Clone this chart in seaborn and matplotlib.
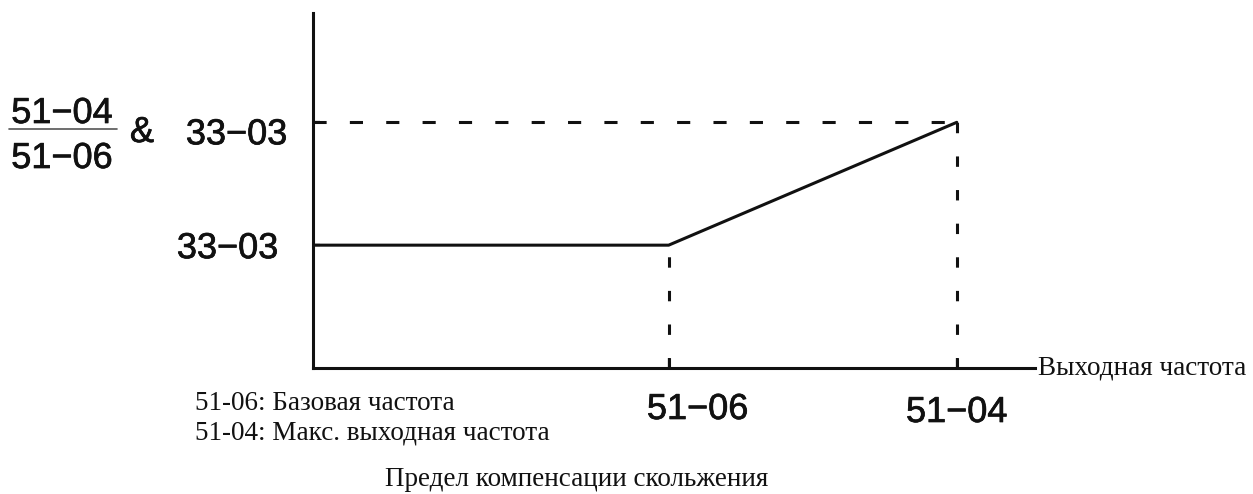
import matplotlib
matplotlib.use("Agg")
import matplotlib.pyplot as plt
import matplotlib.patheffects as pe
from matplotlib.lines import Line2D
from matplotlib.transforms import offset_copy
import pandas as pd
import seaborn as sns

# Slip compensation limit versus output frequency (normalized units)
freq_points = [0.0, 1.0, 1.81]      # start, base frequency 51-06, max output frequency 51-04
limit_points = [1.0, 1.0, 2.0]      # 33-03 up to base, then (51-04/51-06) & 33-03 at max
x_ticks = [1.0, 1.81]
x_tick_labels = ["51−06", "51−04"]
y_ticks = [1.0, 2.0]
y_tick_labels = ["33−03", "33−03"]
x_limit = 2.03
y_limit = 2.89

ratio_top = "51−04"
ratio_bottom = "51−06"
ratio_join = "&"
notes = ["51-06: Базовая частота", "51-04: Макс. выходная частота"]
x_axis_label = "Выходная частота"
caption = "Предел компенсации скольжения"

sns.set_style("ticks")
plt.rcParams["font.family"] = ["Liberation Sans", "DejaVu Sans"]

W, H = 1253, 494
INK = "#111111"


def fx(px):
    return px / W


def fy(py):
    return 1 - py / H


fig = plt.figure(figsize=(W / 100, H / 100), dpi=100)
ax = fig.add_axes([fx(313), fy(368), (1035 - 313) / W, (368 - 13) / H])

df = pd.DataFrame({"freq": freq_points, "limit": limit_points})
sns.lineplot(data=df, x="freq", y="limit", ax=ax, color=INK, linewidth=2.2,
             estimator=None, sort=False)

# dashed guides to the axes
x_base, x_max = x_ticks
y_low, y_high = y_ticks
ax.plot([0, x_max], [y_high, y_high], color=INK, linewidth=2.2, dashes=(4.3, 7.6))
ax.plot([x_base, x_base], [0, y_low], color=INK, linewidth=2.2, dashes=(3.4, 7.6))
ax.plot([x_max, x_max], [0, y_high], color=INK, linewidth=2.2, dashes=(3.4, 7.6))

ax.set_xlim(0, x_limit)
ax.set_ylim(0, y_limit)
ax.set_xlabel("")
ax.set_ylabel("")
for side in ("top", "right"):
    ax.spines[side].set_visible(False)
for side in ("left", "bottom"):
    ax.spines[side].set_linewidth(2.2)
    ax.spines[side].set_color(INK)

ax.set_xticks(x_ticks)
ax.set_yticks(y_ticks)
ax.tick_params(axis="x", direction="in", length=7, width=1.6, color=INK,
               labelbottom=False)
ax.tick_params(axis="y", direction="in", length=5, width=1.6, color=INK,
               labelleft=False)

# slightly heavier sans lettering for the parameter codes
heavy = [pe.withStroke(linewidth=0.5, foreground=INK)]
label_font = dict(fontsize=26, color=INK, family=["Liberation Sans", "DejaVu Sans"],
                  path_effects=heavy)

# frequency labels under the axis
x_label_shift = [(29, -24), (0, -27)]
for val, text, (dx, dy) in zip(x_ticks, x_tick_labels, x_label_shift):
    tr = offset_copy(ax.get_xaxis_transform(), fig=fig, x=dx, y=dy, units="dots")
    ax.text(val, 0, text, transform=tr, ha="center", va="top", **label_font)

# limit labels left of the axis
y_label_shift = [(-35, -13), (-26, -22)]
for val, text, (dx, dy) in zip(y_ticks, y_tick_labels, y_label_shift):
    tr = offset_copy(ax.get_yaxis_transform(), fig=fig, x=dx, y=dy, units="dots")
    ax.text(0, val, text, transform=tr, ha="right", va="baseline", **label_font)

# ratio 51-04 / 51-06 & 33-03
fig.text(fx(62), fy(123), ratio_top, ha="center", va="baseline", **label_font)
fig.text(fx(62), fy(168), ratio_bottom, ha="center", va="baseline", **label_font)
fig.add_artist(Line2D([fx(9), fx(117)], [fy(129.5), fy(129.5)],
                      color="#555555", linewidth=1.2, transform=fig.transFigure))
fig.text(fx(142), fy(142), ratio_join, ha="center", va="baseline", **label_font)

serif = dict(color=INK, family=["Liberation Serif", "DejaVu Serif"], fontsize=19.5)
fig.text(fx(1038), fy(374), x_axis_label, ha="left", va="baseline", **serif)
fig.text(fx(195), fy(410), notes[0], ha="left", va="baseline", **serif)
fig.text(fx(195), fy(439), notes[1], ha="left", va="baseline", **serif)
fig.text(fx(385), fy(486), caption, ha="left", va="baseline", **serif)

fig.savefig("out.png", dpi=100, facecolor="white")
